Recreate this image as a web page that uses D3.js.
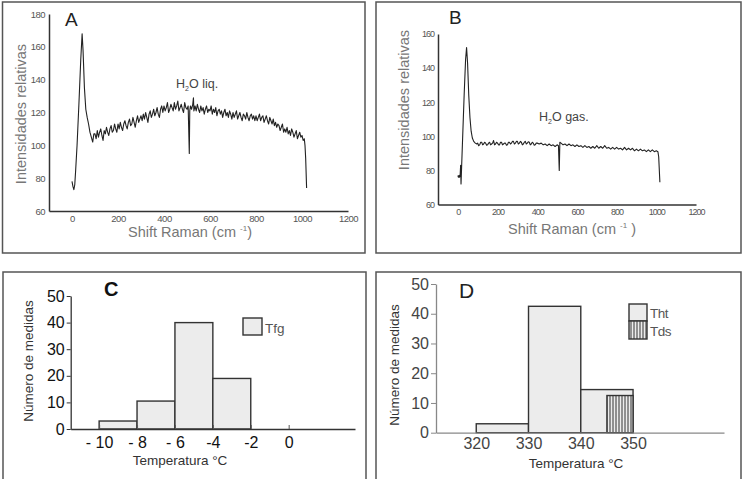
<!DOCTYPE html>
<html><head><meta charset="utf-8">
<script src="https://cdn.jsdelivr.net/npm/d3@7"></script>
<style>
body{margin:0;background:#fff;}
svg{display:block;}
</style></head>
<body>
<script>
// ---------- DATA ----------
const ramanTicks = [0, 200, 400, 600, 800, 1000, 1200];
const intensTicksA = [60, 80, 100, 120, 140, 160, 180];
const intensTicksB = [60, 80, 100, 120, 140, 160];

// Raman spectrum A (H2O liq.) [shift, intensity]
const spectrumA = [
[0,78],[4,75],[8,73],[12,76],[16,85],[22,100],[30,125],[38,152],[44,168],[48,158],[54,135],[60,122],[66,117],[72,113],[78,108],[84,105],[90,102],[95,107],
[100,107],[105,104],[110,109],[115,105],[120,108],[125,110],[130,106],[135,103],[140,109],[145,107],[150,111],[155,108],[160,106],[165,110],[170,112],[175,108],[180,109],[185,113],[190,110],[195,108],
[200,113],[205,110],[210,114],[215,111],[220,109],[225,113],[230,115],[235,112],[240,110],[245,114],[250,116],[255,112],[260,113],[265,117],[270,114],[275,111],[280,115],[285,118],[290,114],[295,116],
[300,118],[305,115],[310,119],[315,116],[320,120],[325,117],[330,114],[335,119],[340,121],[345,117],[350,119],[355,122],[360,118],[365,120],[370,123],[375,119],[380,117],[385,122],[390,124],[395,120],
[400,124],[405,121],[410,123],[415,126],[420,120],[425,122],[430,125],[435,123],[440,121],[445,126],[450,122],[455,124],[460,127],[465,121],[470,123],[475,125],[480,122],[485,120],[490,126],[495,123],
[500,122],[505,124],[510,95],[512,121],[515,124],[520,122],[525,125],[528,129],[530,121],[535,124],
[540,121],[545,125],[550,122],[555,120],[560,124],[565,121],[570,123],[575,119],[580,122],[585,124],[590,120],[595,122],
[600,121],[605,124],[610,119],[615,122],[620,120],[625,123],[630,118],[635,121],[640,122],[645,119],[650,121],[655,117],[660,120],[665,122],[670,118],[675,120],[680,117],[685,121],[690,119],[695,116],
[700,120],[705,117],[710,119],[715,121],[720,116],[725,118],[730,120],[735,117],[740,115],[745,119],[750,118],[755,116],[760,120],[765,117],[770,115],[775,118],[780,119],[785,116],[790,118],[795,115],
[800,118],[805,115],[810,117],[815,119],[820,115],[825,117],[830,118],[835,114],[840,116],[845,118],[850,115],[855,113],[860,117],[865,115],[870,113],[875,116],[880,112],[885,114],[890,111],[895,113],
[900,112],[905,109],[910,111],[915,113],[920,108],[925,110],[930,108],[935,111],[940,107],[945,109],[950,106],[955,110],[960,108],[965,105],[970,107],[975,109],[980,104],[985,106],[990,108],[995,105],
[1000,106],[1005,103],[1010,104],[1013,100],[1016,92],[1020,74]
];

// Raman spectrum B (H2O gas.) [shift, intensity]
const spectrumB = [
[0,77],[3,76],[6,77],[9,76],[12,78],[14,83],[16,72],[19,82],[25,102],[32,125],[39,145],[44,152],[49,143],[55,124],[61,111],[67,103],[73,99],[80,97],[88,96],[95,95.5],
[100,96],[105,94.5],[110,95],[115,96.5],[120,96.5],[125,95],[130,95.5],[135,96.5],[140,96],[145,94.8],[150,95],[155,96],[160,96.5],[165,95],[170,95.5],[175,96],[180,97.5],[185,95],[190,95.5],[195,96.5],
[200,96],[205,95],[210,95],[215,96.5],[220,96.5],[225,95],[230,95.5],[235,96],[240,96],[245,94.8],[250,95],[255,96.5],[260,96.5],[265,95.5],[270,96],[275,97],[280,97],[285,95.5],[290,96],[295,97],
[300,97],[305,95.5],[310,96],[315,97],[320,96.5],[325,95],[330,95.5],[335,96.5],[340,97],[345,95.5],[350,96],[355,96.8],[360,96.5],[365,95],[370,95.5],[375,96.5],[380,96],[385,94.8],[390,95],[395,96],
[400,96],[410,95.5],[420,96],[430,95],[440,95.5],[450,94.5],[460,95.5],[470,94.5],[480,95],[490,94],[500,95],[507,94.5],[511,80],[514,96.5],
[520,96],[530,95],[540,95.5],[550,94.5],[560,95.5],[570,94.5],[580,95],[590,94],
[600,95],[610,94],[620,94.5],[630,93.5],[640,94.5],[650,93.5],[660,94],[670,93],[680,94],[690,93],
[700,94.5],[710,93],[720,94],[730,93],[740,94.5],[750,93],[760,93.5],[770,92.5],[780,93.5],[790,92.5],
[800,93.5],[810,92.5],[820,93],[830,92],[840,93.5],[850,92],[860,93],[870,92],[880,93],[890,91.5],
[900,92.5],[910,91.5],[920,92.5],[930,91.5],[940,92],[950,91],[960,92],[970,91],[980,92],[990,91],
[1000,91.5],[1008,91],[1012,88],[1018,73]
];

// Histogram C: Tfg
const tfgLo = [-10, -8, -6, -4];
const tfgHi = [-8, -6, -4, -2];
const tfgCounts = [3, 10.5, 40, 19];
const tempTicksC = [-10, -8, -6, -4, -2, 0];
const tempLabelsC = ["- 10", "- 8", "- 6", "-4", "-2", "0"];

// Histogram D: Tht and Tds
const thtLo = [320, 330, 340];
const thtHi = [330, 340, 350];
const thtCounts = [3, 42.5, 14.5];
const tdsLo = [345];
const tdsHi = [350];
const tdsCounts = [12.5];
const tempTicksD = [320, 330, 340, 350];
const countTicks = [0, 10, 20, 30, 40, 50];

// ---------- DRAW ----------
const W = 745, H = 479;
const svg = d3.select("body").append("svg").attr("width", W).attr("height", H);
svg.append("rect").attr("width", W).attr("height", H).attr("fill", "#fff");

const defs = svg.append("defs");
const pat = defs.append("pattern").attr("id", "vhatch").attr("patternUnits", "userSpaceOnUse")
  .attr("width", 3).attr("height", 6);
pat.append("rect").attr("width", 3).attr("height", 6).attr("fill", "#ececec");
pat.append("line").attr("x1", 1).attr("x2", 1).attr("y1", 0).attr("y2", 6).attr("stroke", "#333").attr("stroke-width", 1);

// frames
const frames = [[2.5, 2, 362.5, 251], [376, 2, 365, 251], [3, 272, 363, 215], [376, 272, 365, 215]];
frames.forEach(f => svg.append("rect").attr("x", f[0]).attr("y", f[1]).attr("width", f[2]).attr("height", f[3])
  .attr("fill", "none").attr("stroke", "#555").attr("stroke-width", 1.5));

const specFont = "'Liberation Sans', Arial, sans-serif";

function spectrumPanel(o) {
  const x = d3.scaleLinear().domain([-100, 1200]).range(o.xr);
  const y = d3.scaleLinear().domain(o.yd).range(o.yr);
  const g = svg.append("g");
  const xa = g.append("g").attr("transform", `translate(0,${o.yr[0]})`)
    .call(d3.axisBottom(x).tickValues(ramanTicks).tickFormat(d3.format("d")).tickSize(0).tickPadding(4).tickSizeOuter(0));
  const ya = g.append("g").attr("transform", `translate(${o.xr[0]},0)`)
    .call(d3.axisLeft(y).tickValues(o.yticks).tickFormat(d3.format("d")).tickSize(0).tickPadding(4).tickSizeOuter(0));
  [xa, ya].forEach(a => {
    a.select(".domain").attr("stroke", "#333").attr("stroke-width", 1.5);
    a.selectAll("text").attr("font-family", specFont).attr("font-size", o.tickFs)
      .attr("fill", "#555").attr("letter-spacing", o.ls);
  });
  const line = d3.line().x(d => x(d[0])).y(d => y(d[1]));
  g.append("path").datum(o.data).attr("d", line).attr("fill", "none")
    .attr("stroke", "#222").attr("stroke-width", 1.1).attr("stroke-linejoin", "round");
  // titles
  g.append("text").attr("transform", `translate(${o.ytx},${o.yty}) rotate(-90)`)
    .attr("text-anchor", "middle").attr("font-family", specFont).attr("font-size", 14.5)
    .attr("fill", "#777").text("Intensidades relativas");
  const xt = g.append("text").attr("x", o.xtx).attr("y", o.xty).attr("text-anchor", "middle")
    .attr("font-family", specFont).attr("font-size", 14.5).attr("fill", "#777");
  xt.append("tspan").text("Shift Raman (cm ");
  xt.append("tspan").attr("dy", -6).attr("font-size", 8).text("-1");
  xt.append("tspan").attr("dy", 6).text(o.closeSp ? " )" : ")");
  g.append("text").attr("x", o.lx).attr("y", o.ly).attr("font-family", specFont)
    .attr("font-size", 19).attr("fill", "#222").text(o.letter);
  const ann = g.append("text").attr("x", o.ax).attr("y", o.ay).attr("font-family", specFont)
    .attr("font-size", 12.5).attr("fill", "#444");
  ann.append("tspan").text("H");
  ann.append("tspan").attr("dy", 3).attr("font-size", 7).text("2");
  ann.append("tspan").attr("dy", -3).text("O " + o.phase);
}

spectrumPanel({xr: [49, 348], yd: [60, 180], yr: [211, 14], yticks: intensTicksA, data: spectrumA,
  tickFs: 9.5, ls: -0.5, ytx: 26, yty: 114, xtx: 190, xty: 237, lx: 65, ly: 26, letter: "A",
  ax: 176, ay: 88, phase: "liq.", closeSp: false});
spectrumPanel({xr: [438, 696], yd: [60, 160], yr: [204.5, 34], yticks: intensTicksB, data: spectrumB,
  tickFs: 9, ls: -1, ytx: 409, yty: 100, xtx: 572, xty: 234, lx: 449, ly: 24, letter: "B",
  ax: 539, ay: 121, phase: "gas.", closeSp: true});

// ---------- Histogram C ----------
const histFont = "'Liberation Sans', Arial, sans-serif";
{
  const x = d3.scaleLinear().domain([-11.5, 3.5]).range([70.7, 355]);
  const y = d3.scaleLinear().domain([0, 50]).range([429, 296]);
  const g = svg.append("g");
  g.selectAll("rect.bar").data(tfgCounts).join("rect").attr("class", "bar")
    .attr("x", (d, i) => x(tfgLo[i])).attr("width", (d, i) => x(tfgHi[i]) - x(tfgLo[i]))
    .attr("y", d => y(d)).attr("height", d => y(0) - y(d))
    .attr("fill", "#ececec").attr("stroke", "#333").attr("stroke-width", 1.4);
  const xa = g.append("g").attr("transform", `translate(0,${y(0)})`)
    .call(d3.axisBottom(x).tickValues(tempTicksC).tickFormat((d, i) => tempLabelsC[i])
      .tickSize(-4).tickPadding(8).tickSizeOuter(0));
  xa.selectAll(".tick line").attr("stroke", "#555");
  const ya = g.append("g").attr("transform", `translate(${x.range()[0]},0)`)
    .call(d3.axisLeft(y).tickValues(countTicks).tickSize(4).tickPadding(2).tickSizeOuter(0));
  [xa, ya].forEach(a => {
    a.select(".domain").attr("stroke", "#333").attr("stroke-width", 1.3);
    a.selectAll("text").attr("font-family", histFont).attr("font-size", 16).attr("fill", "#111");
  });
  ya.selectAll(".tick line").attr("stroke", "#333");
  g.append("text").attr("x", 104).attr("y", 296).attr("font-family", histFont).attr("font-size", 20)
    .attr("font-weight", "bold").attr("fill", "#111").text("C");
  g.append("rect").attr("x", 243).attr("y", 318).attr("width", 19).attr("height", 17)
    .attr("fill", "#ececec").attr("stroke", "#333").attr("stroke-width", 1.4);
  g.append("text").attr("x", 265).attr("y", 333).attr("font-family", histFont).attr("font-size", 13.5)
    .attr("fill", "#555").text("Tfg");
  g.append("text").attr("transform", "translate(33,361) rotate(-90)").attr("text-anchor", "middle")
    .attr("font-family", histFont).attr("font-size", 13.5).attr("fill", "#333").text("Número de medidas");
  g.append("text").attr("x", 180).attr("y", 465).attr("text-anchor", "middle")
    .attr("font-family", histFont).attr("font-size", 13.5).attr("fill", "#333").text("Temperatura °C");
}

// ---------- Histogram D ----------
{
  const x = d3.scaleLinear().domain([312.3, 367.4]).range([436, 724]);
  const y = d3.scaleLinear().domain([0, 50]).range([432.7, 284]);
  const g = svg.append("g");
  g.selectAll("rect.tht").data(thtCounts).join("rect").attr("class", "tht")
    .attr("x", (d, i) => x(thtLo[i])).attr("width", (d, i) => x(thtHi[i]) - x(thtLo[i]))
    .attr("y", d => y(d)).attr("height", d => y(0) - y(d))
    .attr("fill", "#ececec").attr("stroke", "#333").attr("stroke-width", 1.4);
  g.selectAll("rect.tds").data(tdsCounts).join("rect").attr("class", "tds")
    .attr("x", (d, i) => x(tdsLo[i])).attr("width", (d, i) => x(tdsHi[i]) - x(tdsLo[i]))
    .attr("y", d => y(d)).attr("height", d => y(0) - y(d))
    .attr("fill", "url(#vhatch)").attr("stroke", "#333").attr("stroke-width", 1.4);
  const xa = g.append("g").attr("transform", `translate(0,${y(0)})`)
    .call(d3.axisBottom(x).tickValues(tempTicksD).tickSize(0).tickPadding(5).tickSizeOuter(0));
  const ya = g.append("g").attr("transform", `translate(${x.range()[0]},0)`)
    .call(d3.axisLeft(y).tickValues(countTicks).tickSize(5).tickPadding(2).tickSizeOuter(0));
  [xa, ya].forEach(a => {
    a.select(".domain").attr("stroke", "#888").attr("stroke-width", 1.3);
    a.selectAll("text").attr("font-family", histFont).attr("font-size", 16).attr("fill", "#444");
  });
  ya.selectAll(".tick line").attr("stroke", "#888");
  g.append("text").attr("x", 459).attr("y", 298).attr("font-family", histFont).attr("font-size", 21)
    .attr("fill", "#222").text("D");
  g.append("rect").attr("x", 629).attr("y", 304).attr("width", 18).attr("height", 17)
    .attr("fill", "#ececec").attr("stroke", "#333").attr("stroke-width", 1.4);
  g.append("rect").attr("x", 629).attr("y", 321).attr("width", 18).attr("height", 18)
    .attr("fill", "url(#vhatch)").attr("stroke", "#333").attr("stroke-width", 1.4);
  g.append("text").attr("x", 650).attr("y", 318).attr("font-family", histFont).attr("font-size", 13.5)
    .attr("fill", "#555").attr("letter-spacing", -0.5).text("Tht");
  g.append("text").attr("x", 650).attr("y", 336).attr("font-family", histFont).attr("font-size", 13.5)
    .attr("fill", "#555").attr("letter-spacing", -0.5).text("Tds");
  g.append("text").attr("transform", "translate(399,365) rotate(-90)").attr("text-anchor", "middle")
    .attr("font-family", histFont).attr("font-size", 13.5).attr("fill", "#333").text("Número de medidas");
  g.append("text").attr("x", 576).attr("y", 468).attr("text-anchor", "middle")
    .attr("font-family", histFont).attr("font-size", 13.5).attr("fill", "#333").text("Temperatura °C");
}
</script>
</body></html>
